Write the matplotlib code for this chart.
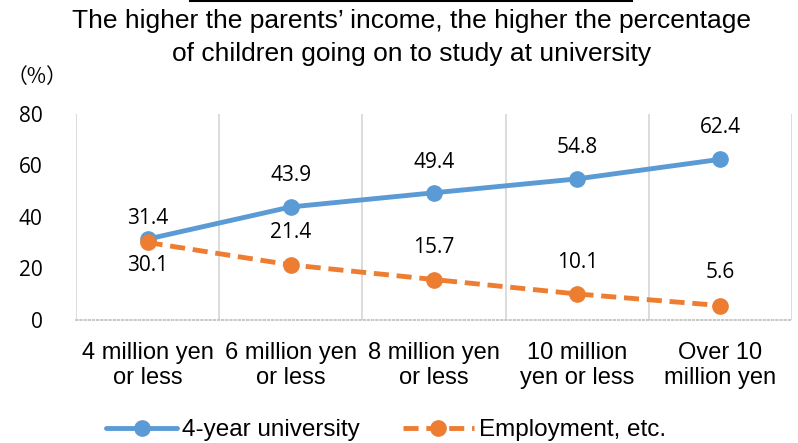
import numpy as np
import matplotlib
matplotlib.use("Agg")
import matplotlib.pyplot as plt
from matplotlib.lines import Line2D

# data
categories = ["4 million yen\nor less", "6 million yen\nor less", "8 million yen\nor less",
              "10 million\nyen or less", "Over 10\nmillion yen"]
university = [31.4, 43.9, 49.4, 54.8, 62.4]
employment = [30.1, 21.4, 15.7, 10.1, 5.6]
series_names = ["4-year university", "Employment, etc."]
yticks = [0, 20, 40, 60, 80]

# label offsets in pixels (above > 0, below < 0)
uni_off = [21, 31, 30, 31, 32]
emp_off = [-23, 32, 32, 31, 33]

blue = "#5B9BD5"
orange = "#ED7D31"
lab_font = "Open Sans"
txt_font = "Liberation Sans"

fig = plt.figure(figsize=(7.98, 4.43), dpi=100)
ax = fig.add_axes([0.0952, 0.2777, 0.8973, 0.465])

x = np.arange(len(categories))
ax.plot(x, university, color=blue, lw=3.5, marker="o", ms=11, solid_capstyle="round",
        label=series_names[0], zorder=3)
ax.plot(x, employment, color=orange, lw=3.5, marker="o", ms=11, linestyle=(0, (3.1, 1.6)),
        label=series_names[1], zorder=3)

for i in range(len(x)):
    ax.annotate("%.1f" % university[i], (x[i], university[i]), xytext=(0, uni_off[i]),
                textcoords="offset pixels", ha="center", va="center",
                fontsize=15, family=lab_font)
    ax.annotate("%.1f" % employment[i], (x[i], employment[i]), xytext=(0, emp_off[i]),
                textcoords="offset pixels", ha="center", va="center",
                fontsize=15, family=lab_font)

ax.set_xlim(-0.5, len(x) - 0.5)
ax.set_ylim(0, 80)
ax.set_yticks(yticks)
ax.set_yticklabels([str(v) for v in yticks], family=lab_font, fontsize=15)
ax.set_xticks(x)
ax.set_xticklabels(categories, family=txt_font, fontsize=17, linespacing=1.15)
ax.set_xticks(np.arange(len(x) + 1) - 0.5, minor=True)
ax.tick_params(axis="x", which="major", length=0, pad=16)
ax.tick_params(axis="x", which="minor", length=0)
ax.tick_params(axis="y", length=0, pad=24)
ax.grid(True, axis="x", which="minor", color="#D9D9D9", lw=1.3)
ax.grid(False, axis="x", which="major")
for s in ["top", "right", "left"]:
    ax.spines[s].set_visible(False)
ax.spines["bottom"].set_color("#BFBFBF")
ax.spines["bottom"].set_linestyle((0, (1, 1.5)))
ax.spines["bottom"].set_linewidth(1.2)

fig.legend(loc="center", bbox_to_anchor=(386 / 798, 1 - 430 / 443), ncol=2, frameon=False,
           prop={"family": txt_font, "size": 17.5}, handlelength=2.95, handletextpad=0.2,
           columnspacing=1.75)

# title
fig.text(412 / 798, 1 - 28 / 443, "The higher the parents\u2019 income, the higher the percentage",
         ha="center", va="baseline", family=txt_font, fontsize=19)
fig.text(412 / 798, 1 - 61 / 443, "of children going on to study at university",
         ha="center", va="baseline", family=txt_font, fontsize=19)
fig.add_artist(Line2D([190 / 798, 632 / 798], [1 - 1 / 443, 1 - 1 / 443], color="black", lw=1.5))
fig.text(37 / 798, 1 - 77 / 443, "\uff08%\uff09", ha="center", va="center",
         family=["Noto Sans CJK JP", "DejaVu Sans"], fontsize=15)

fig.savefig("out.png", dpi=100)
